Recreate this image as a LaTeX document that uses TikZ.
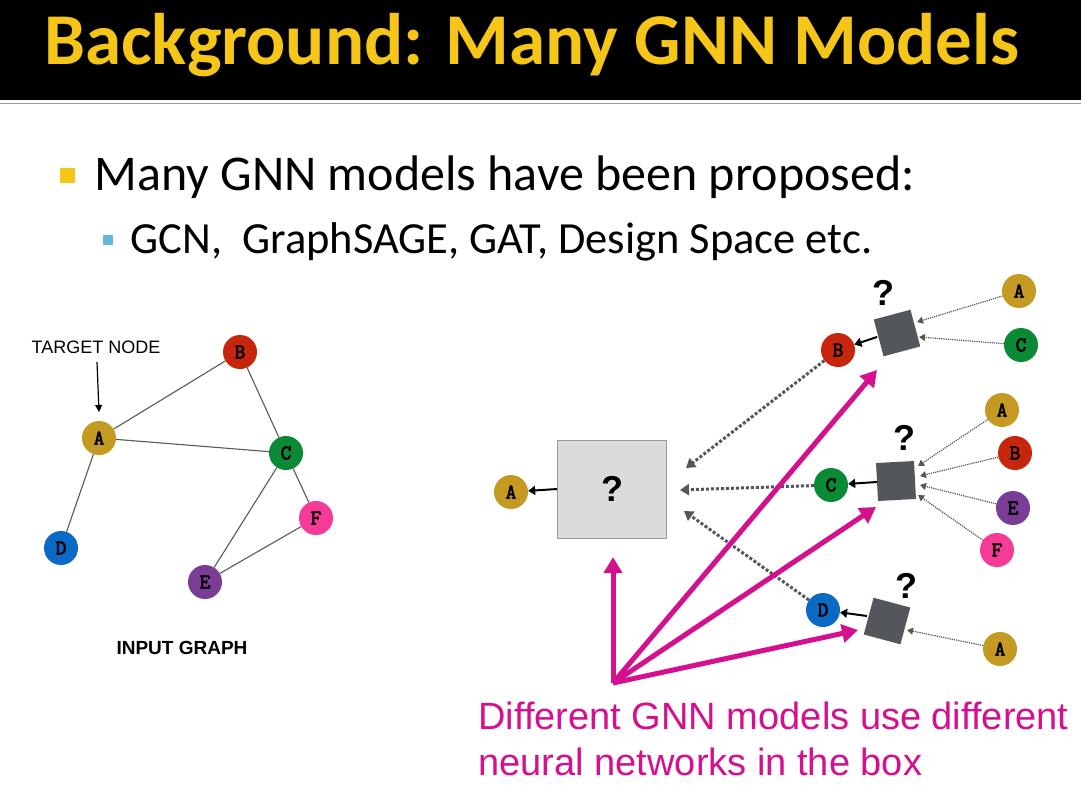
\documentclass[tikz,border=0pt]{standalone}
\usepackage{fontspec}
\setmainfont{Carlito}
\newfontfamily\ars{Liberation Sans}
\newfontfamily\mono{Latin Modern Mono}[BoldFont={Latin Modern Mono},BoldFeatures={FakeBold=3}]
\usetikzlibrary{arrows.meta}
\definecolor{cA}{HTML}{C49A22}\definecolor{cB}{HTML}{C8250D}\definecolor{cC}{HTML}{0A8A35}
\definecolor{cD}{HTML}{0A6AC6}\definecolor{cE}{HTML}{7A3D96}\definecolor{cF}{HTML}{F53A97}
\definecolor{mag}{HTML}{D4108F}\definecolor{ttl}{HTML}{F5C518}\definecolor{dk}{HTML}{53565A}
\begin{document}
\begin{tikzpicture}[x=1pt,y=-1pt,
 gn/.style={circle,minimum size=34pt,inner sep=0pt,font=\mono\bfseries\fontsize{21}{21}\selectfont},
 sbox/.style={fill=dk,minimum size=38pt,inner sep=0pt},
 q/.style={font=\ars\bfseries\fontsize{36}{36}\selectfont},
 dotA/.style={densely dotted,draw=dk,line width=1.2pt,-{Triangle[length=6pt,width=7pt]}},
 dotB/.style={dotted,draw=dk,line width=3pt,-{Triangle[length=9pt,width=11pt]}},
 blk/.style={line width=2pt,-{Triangle[length=7pt,width=9pt]}},
 mg/.style={draw=mag,line width=5pt,-{Triangle[length=16pt,width=18pt]}},
 edge/.style={draw=black!65,line width=1.1pt}]
\useasboundingbox (0,0) rectangle (1081,785);
\fill[white] (0,0) rectangle (1081,785);
\fill[black] (0,0) rectangle (1081,100);
\draw[black!40,line width=1pt] (0,103) -- (1081,103);
\node[text=ttl,font=\bfseries\fontsize{73}{73}\selectfont] (title) at (532,45) {Background: Many GNN Models};
\fill[ttl] (60,168) rectangle (75,183);
\node[anchor=west,font=\fontsize{50}{50}\selectfont] (l1) at (91,177) {Many GNN models have been proposed:};
\fill[cyan!60!teal!70] (103,235) rectangle (113,245);
\node[anchor=west,font=\fontsize{44.5}{44.5}\selectfont] (l2) at (127,242) {GCN,\ \ GraphSAGE, GAT, Design Space etc.};
% left graph
\node[gn,fill=cB] (B) at (240,352) {B};
\node[gn,fill=cA] (A) at (99,438) {A};
\node[gn,fill=cC] (C) at (286,453) {C};
\node[gn,fill=cF] (F) at (316,518) {F};
\node[gn,fill=cD] (D) at (61,548) {D};
\node[gn,fill=cE] (E) at (205,582) {E};
\draw[edge] (A)--(B) (A)--(C) (B)--(C) (A)--(D) (C)--(E) (C)--(F) (E)--(F);
\node[font=\ars\fontsize{18}{18}\selectfont] (tn) at (96,347) {TARGET NODE};
\draw[line width=1.2pt,-{Triangle[length=7pt,width=7pt]}] (97,362) coordinate (t1) -- (A.north |- 0,412);
\node[font=\ars\bfseries\fontsize{19}{19}\selectfont] (ig) at (182,648) {INPUT GRAPH};
% right
\node[draw=black!40,fill=black!14,line width=1pt,minimum width=109pt,minimum height=98pt] (big) at (612,489) {};
\node[q] (bq) at (612,489) {?};
\node[gn,fill=cA] (A0) at (511,492) {A};
\draw[blk] (big.west) -- (A0);
% top
\node[sbox,rotate=15] (s1) at (897,333) {};
\node[q] (q1) at (883,293) {?};
\node[gn,fill=cB] (B1) at (838,350) {B};
\node[gn,fill=cA] (A1) at (1019,291) {A};
\node[gn,fill=cC] (C1) at (1021,345) {C};
\draw[blk] (s1) ++(-20,4) coordinate (s1w) -- (B1);
\draw[dotA] (A1) -- (917,322);
\draw[dotA] (C1) -- (919,337);
% mid
\node[sbox,rotate=3] (s2) at (896,481) {};
\node[q] (q2) at (904,438) {?};
\node[gn,fill=cC] (C2) at (831,485) {C};
\node[gn,fill=cA] (A2) at (1002,410) {A};
\node[gn,fill=cB] (B2) at (1015,453) {B};
\node[gn,fill=cE] (E2) at (1013,508) {E};
\node[gn,fill=cF] (F2) at (997,550) {F};
\draw[blk] (s2.west) -- (C2);
\draw[dotA] (A2) -- (918,466);
\draw[dotA] (B2) -- (920,476);
\draw[dotA] (E2) -- (920,485);
\draw[dotA] (F2) -- (918,495);
% bottom
\node[sbox,rotate=-15] (s3) at (887,621) {};
\node[q] (q3) at (906,586) {?};
\node[gn,fill=cD] (D3) at (823,610) {D};
\node[gn,fill=cA] (A3) at (1000,649) {A};
\draw[blk] (s3) ++(-20,-5) coordinate (s3w) -- (D3);
\draw[dotA] (A3) -- (907,630);
% dotted to big
\coordinate (t1a) at (686,468); \coordinate (t2a) at (680,490); \coordinate (t3a) at (684,511);
\draw[dotB] (B1) -- (t1a);
\draw[dotB] (C2) -- (t2a);
\draw[dotB] (D3) -- (t3a);
% magenta
\coordinate (o) at (613,683);
\coordinate (m0) at (613,557); \coordinate (m1) at (877,370); \coordinate (m2) at (876,507); \coordinate (m3) at (858,630);
\draw[mg] (o) -- (m0); \draw[mg] (o) -- (m1); \draw[mg] (o) -- (m2); \draw[mg] (o) -- (m3);
\node[anchor=west,text=mag,font=\ars\fontsize{38}{38}\selectfont] (d1) at (475,716) {Different GNN models use different};
\node[anchor=west,text=mag,font=\ars\fontsize{38}{38}\selectfont] (d2) at (475,762) {neural networks in the box};
\end{tikzpicture}
\end{document}
